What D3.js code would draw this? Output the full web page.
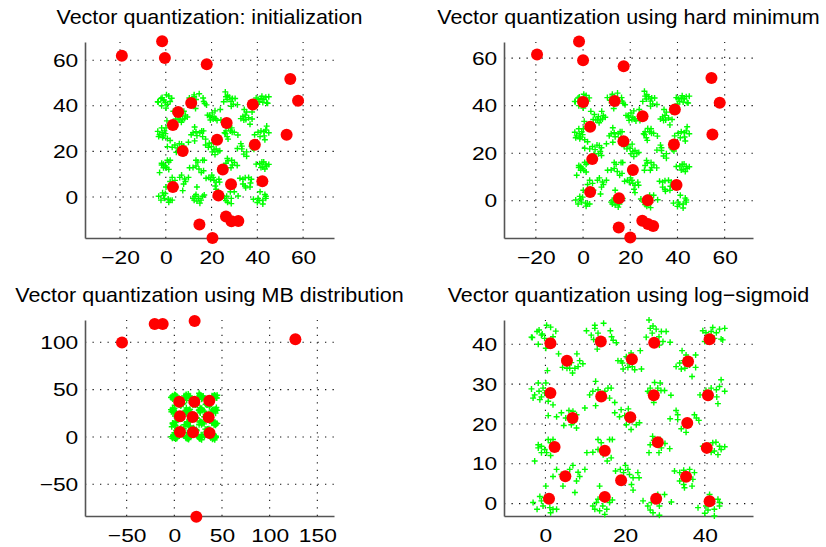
<!DOCTYPE html>
<html>
<head>
<meta charset="utf-8">
<script src="https://cdn.jsdelivr.net/npm/d3@7"></script>
<style>
  body { margin: 0; background: #fff; }
  text { font-family: "Liberation Sans", Arial, sans-serif; fill: #000; }
</style>
</head>
<body>
<svg id="chart" width="826" height="547"></svg>
<script>
// training data (same 25 clusters in every panel)
var dataPts = [
  [-3.5,41.8],[-2.1,43.2],[-1.6,43.6],[0.3,44.8],[1.3,44.3],[-1,42.3],[-1.8,40],[-0.2,41.5],[0.1,39],[0.7,40.7],[1.9,41.9],[-0.8,42.6],[2.6,43.3],[-3.3,41.7],[0.5,33.4],
  [10.3,43.4],[12.4,44.8],[14.6,45.3],[13.2,42.8],[11.5,42.3],[16.3,43.4],[16.6,41.9],[17,41],[13,38.8],[17.8,40.4],[12.4,44],[12.1,41.2],
  [26,46.1],[26.3,44],[27.8,43.8],[29.1,43.2],[30.3,43.2],[25.3,41.8],[29.5,40.7],[31.3,40.5],[26.8,42.8],[28.5,41.9],[28.6,39.8],[27,44.6],
  [39.5,43.4],[40.3,42.9],[41.6,43.2],[42.9,42.9],[43.7,43.8],[45,44],[42.4,41.5],[44.1,41.3],[44.5,41.1],[40.8,41.8],[40,40.7],[42,44.2],
  [3.3,37.6],[4.8,36.3],[6.5,35.4],[7.9,37.6],[8.6,35.9],[9.4,35.1],[7.4,34],[6.1,34],[6.8,32.8],[5.4,34],[8.2,34.4],[4.3,34.2],
  [18.2,35.9],[19,35.8],[20.3,36.9],[21.5,37.8],[23.8,38.4],[21.1,35.1],[21.8,34.4],[19.5,33.8],[22.4,33.6],[24.1,33.8],[20.7,34.2],[19.3,35.3],
  [34.3,38.4],[35.3,37.3],[37.7,37.3],[32.8,34.4],[33.7,35.3],[34.7,35.9],[36.2,34.8],[37.7,34.2],[36.8,31.9],[35,34],[34.1,33.8],
  [-3.5,28.8],[-1.8,30.3],[-2.7,27.3],[-1.6,28.2],[-0.6,29],[0.1,30.3],[-1,26.8],[0.7,25.7],[1.9,24.8],[-1.4,26.1],[-0.2,27.8],[-3.1,26.5],
  [12.6,30.7],[11.1,27.3],[12.6,24.6],[13.2,28.6],[15.7,29],[16.5,29],[13.6,26.9],[14.9,28.2],[16.1,26.5],[17.4,25.4],[11.9,28.2],
  [25.7,28.2],[26.1,27.8],[27.4,30.4],[28.8,30.3],[26.8,26.5],[29,28.4],[29.9,28.4],[27.2,25.4],[28.2,29],[26.3,29],[31.5,27.2],
  [38.8,27.3],[40.3,28.4],[41.6,29],[42.9,28.6],[43.7,29.4],[44.1,31.1],[45,28.2],[43,26.8],[41.2,26.5],[43.3,25.1],
  [0.7,22.1],[2.8,21.8],[4,22.8],[5.1,21.5],[5.9,23.4],[6.9,23.2],[7.8,22.3],[7.3,20.7],[6.5,19.8],[7.8,19],[4.6,19.6],[9.9,24],
  [17.4,22.8],[19,23.6],[20.8,23.8],[19.9,22.1],[22,21.1],[20.3,19.8],[21.5,18.6],[22.8,19.8],[23.6,20.3],[21.1,20.7],[18.6,21.8],
  [31.3,21.3],[32.8,23.4],[33.2,22.3],[34.1,18.8],[35.3,17.9],[35.3,19.8],[37.4,22.3],[37.9,21.5],[38.5,20.9],[33.2,21.1],
  [-2.7,10.7],[-1.8,14.8],[-1,14.4],[-0.2,13.6],[0.7,16.1],[1.9,16.1],[1.3,15.3],[0.3,12.8],[1.3,12.1],[-1,12.8],[-1.8,14],
  [10.4,12.8],[11.9,12.9],[13.2,16.1],[14,15.3],[16.1,16.1],[16.8,16.1],[14.5,12.3],[15.5,10.7],[16.5,11.5],[13.2,13.6],
  [26,12.8],[26.3,14.8],[27.2,15.9],[28.8,16.1],[29.1,14],[28.5,12.8],[31.2,13.8],[26.9,16.9],[30,15.1],
  [39.5,14.4],[41,14.6],[42,15.3],[42.4,13.2],[43.7,14.4],[45,14.3],[43.3,12.3],[44.1,13.6],[41.6,12.9],[42.8,15.4],
  [2.8,8.6],[4,7.3],[6.1,8.6],[6.9,9.6],[8.2,7.9],[8.6,6.8],[7.8,5.7],[7.4,2.8],[4.4,4.4],[9.9,8.6],[1.9,6.8],
  [17.6,8.2],[18.8,8.6],[20.1,9.6],[20.7,8.6],[21.1,7.3],[22,6.5],[21.6,4.8],[23.2,7.8],[23.5,6.5],[19.6,7.8],[22,3.4],
  [32.4,8.2],[33.7,7.8],[34.7,8.4],[36.2,8.6],[37.4,7.8],[37,6.1],[34.7,4.8],[34.9,4],[33.7,5.7],[36.8,4.4],
  [-3.1,0.3],[-2.1,-1.4],[-1,0.7],[-0.2,1.5],[0.1,4.4],[-0.6,-0.6],[1.1,-1],[1.9,-1.4],[2.8,-1.4],[1.3,-2.3],[-1.4,1.8],
  [11.9,-0.6],[12.4,-1.4],[13.2,1.1],[13.6,4.4],[13.6,-1.8],[14.9,-2.7],[15.4,-1.4],[16.1,0.3],[16.8,0.9],[12.8,0.3],[14.4,-0.6],
  [24.5,0.7],[25.7,-0.6],[26.3,-1.6],[27,-2.3],[28.6,-2.9],[28.6,-0.6],[29.9,2.3],[31.6,0.4],[28.2,2.3],[26.6,0.3],
  [38.3,-1],[40,-2.4],[40.8,-1.6],[41.2,2.3],[42.4,-1.4],[43.3,1.1],[43.7,0.3],[43.7,-0.6],[42.4,-3.1],[40.3,-0.6]
];

// codebook vectors for each method
var initCenters = [
  [-19.2,62],[-1.6,68.3],[-0.4,61],[17.9,58.2],[54.4,51.8],[57.8,42.2],[52.8,27.3],[11.1,41.2],[5.4,37.3],
  [3.1,31.6],[38,40.6],[26.6,32.5],[22.4,25.1],[38.9,22.9],[7.4,20.2],[24.9,12.1],[28.5,5.6],[42.2,6.9],
  [3.1,4.4],[23,0.6],[14.7,-12.1],[26.3,-8.6],[28.7,-10.7],[31.7,-10.5],[20.4,-18]
];
var hardMinCenters = [
  [-19.5,61.5],[-1.7,67],[0,59.1],[17.2,56.6],[54.4,51.6],[57.9,41.2],[54.8,27.9],[0,41.5],[13.4,42],
  [38.9,38.4],[25.2,35.5],[3,31.1],[17.1,25],[38.5,23.7],[3.9,17.5],[21.1,12.9],[39.6,6.6],[3,3.7],
  [15.2,1],[27.4,0.2],[15.1,-11.3],[25.1,-8.4],[27.5,-9.8],[29.7,-10.6],[20,-15.5]
];
var mbCenters = [
  [-54.9,99.7],[-20.6,119.3],[-12.2,119.3],[21.3,122.4],[127,103.2],[23.1,-84.2],
  [5.2,37.2],[21,37.2],[36.7,38.2],[5.9,21.8],[19.2,21],[36,20.7],[5.9,5.3],[19.6,4.9],[37,4.2]
];
var logSigCenters = [
  [1.25,40.25],[13.9,40.7],[27.3,40.4],[41.2,41.25],[5.4,35.9],[21.7,36.25],[35.8,35.7],
  [1.25,27.75],[14,26.9],[27.2,27.2],[40.8,27.2],[6.8,21.5],[21.3,21.7],[35.6,20.25],
  [2.3,14.2],[14.9,13.3],[28.2,15.4],[40.5,14],[5,6.9],[19,5.9],[35.3,6.75],
  [0.9,1.25],[14.9,1.7],[27.8,1.25],[41.2,0.6]
];

var titles = [
  "Vector quantization: initialization",
  "Vector quantization using hard minimum",
  "Vector quantization using MB distribution",
  "Vector quantization using log\u2212sigmoid"
];
var ticksX1 = [-20, 0, 20, 40, 60], ticksY1 = [0, 20, 40, 60];
var ticksX3 = [-50, 0, 50, 100, 150], ticksY3 = [-50, 0, 50, 100];
var ticksX4 = [0, 20, 40], ticksY4 = [0, 10, 20, 30, 40];

var svg = d3.select("#chart");

var panels = [
  {box: [85, 334, 42, 238],  xd: [-35.3, 73.5],  yd: [-18, 68],      tx: ticksX1, ty: ticksY1, c: initCenters,    title: titles[0]},
  {box: [504, 753, 42, 238], xd: [-33.5, 72],    yd: [-15.7, 66.8],  tx: ticksX1, ty: ticksY1, c: hardMinCenters, title: titles[1]},
  {box: [85, 334, 320, 516], xd: [-93.7, 167.5], yd: [-83.5, 123.5], tx: ticksX3, ty: ticksY3, c: mbCenters,      title: titles[2]},
  {box: [504, 753, 320, 516],xd: [-10.4, 52.1],  yd: [-3.1, 46.1],   tx: ticksX4, ty: ticksY4, c: logSigCenters,  title: titles[3]}
];

panels.forEach(function(p) {
  var L = p.box[0], R = p.box[1], T = p.box[2], B = p.box[3];
  var x = d3.scaleLinear().domain(p.xd).range([L, R]);
  var y = d3.scaleLinear().domain(p.yd).range([B, T]);
  var g = svg.append("g");

  // dotted grid
  g.selectAll(".gx").data(p.tx).enter().append("line")
    .attr("x1", function(d) { return x(d); }).attr("x2", function(d) { return x(d); })
    .attr("y1", B).attr("y2", T)
    .attr("stroke", "#111").attr("stroke-width", 1.1).attr("stroke-dasharray", "1.3,6.2");
  g.selectAll(".gy").data(p.ty).enter().append("line")
    .attr("y1", function(d) { return y(d); }).attr("y2", function(d) { return y(d); })
    .attr("x1", L).attr("x2", R)
    .attr("stroke", "#111").attr("stroke-width", 1.1).attr("stroke-dasharray", "1.3,6.2");

  // axes
  var ax = g.append("g").attr("transform", "translate(0," + B + ")")
    .call(d3.axisBottom(x).tickValues(p.tx).tickSize(0).tickPadding(13));
  var ay = g.append("g").attr("transform", "translate(" + L + ",0)")
    .call(d3.axisLeft(y).tickValues(p.ty).tickSize(0).tickPadding(5.6));
  [ax, ay].forEach(function(a) {
    a.select(".domain").attr("stroke", "#555").attr("stroke-width", 1.6);
    a.selectAll("text")
      .attr("font-size", 19)
      .attr("font-family", "Liberation Sans, Arial, sans-serif")
      .attr("fill", "#000")
      .attr("transform", "scale(1.2,1)");
  });

  // data points
  g.selectAll(".pt").data(dataPts).enter().append("path")
    .attr("d", "M-3,0H3M0,-3V3")
    .attr("transform", function(d) { return "translate(" + x(d[0]) + "," + y(d[1]) + ")"; })
    .attr("stroke", "#00ff00").attr("stroke-width", 1.4).attr("fill", "none");

  // centers
  g.selectAll(".ctr").data(p.c).enter().append("circle")
    .attr("cx", function(d) { return x(d[0]); })
    .attr("cy", function(d) { return y(d[1]); })
    .attr("r", 6)
    .attr("fill", "#ff0000");

  // title
  g.append("text")
    .attr("transform", "translate(" + ((L + R) / 2) + "," + (T - 18.5) + ") scale(1.05,1)")
    .attr("text-anchor", "middle")
    .attr("font-size", 20.5)
    .text(p.title);
});
</script>
</body>
</html>
